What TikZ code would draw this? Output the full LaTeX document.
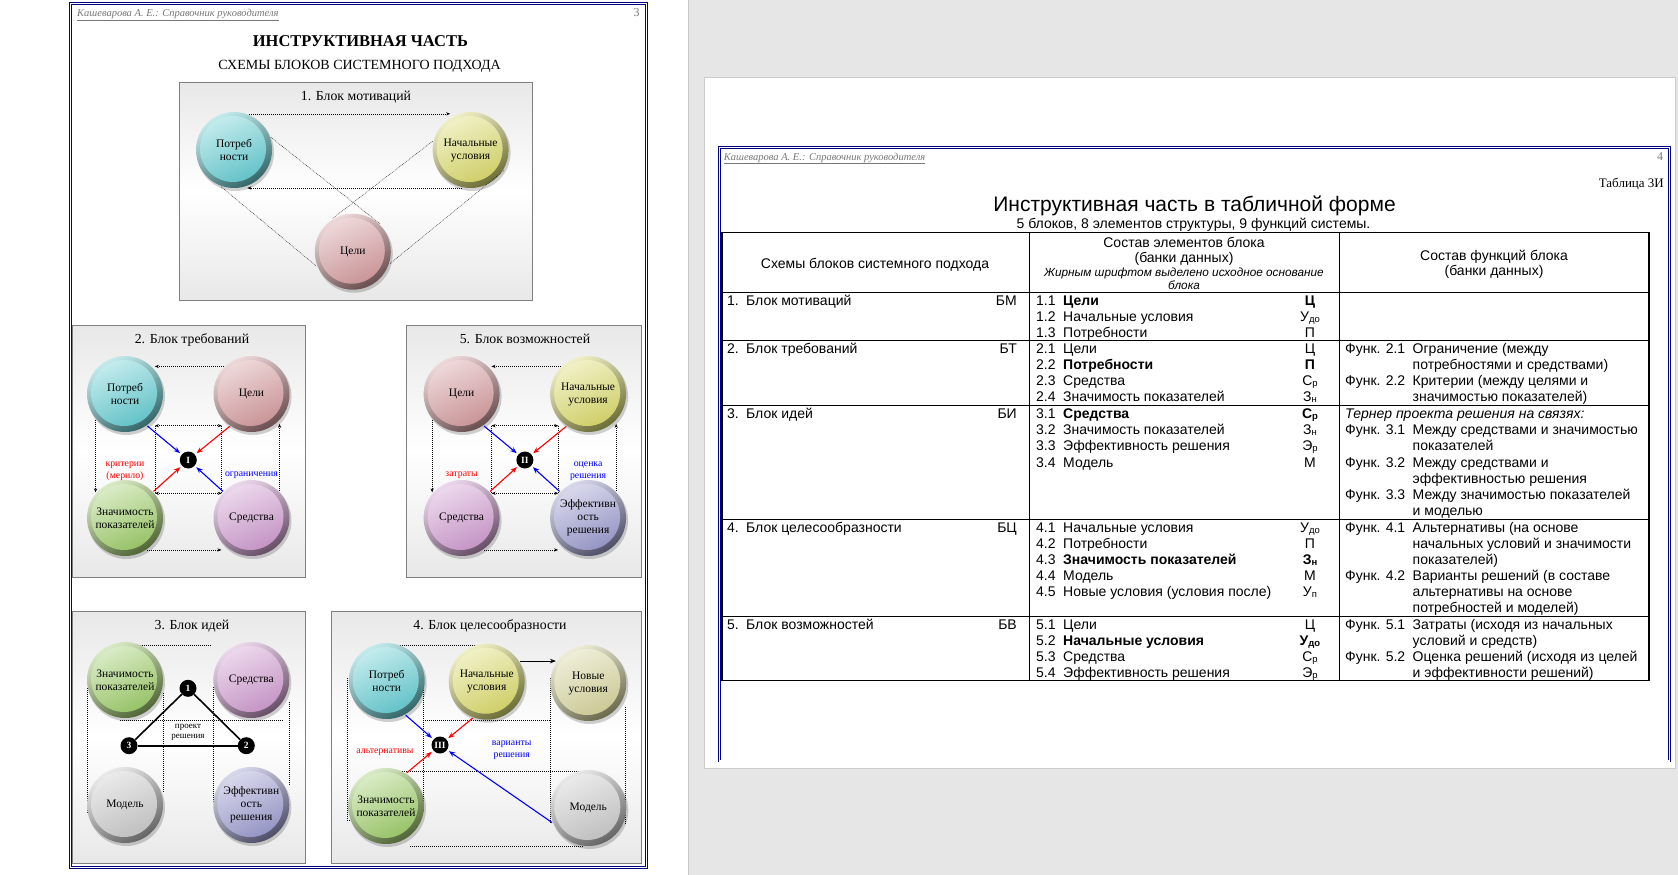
\documentclass[tikz,border=0pt]{standalone}
\usepackage{fontspec}
\setmainfont{Liberation Serif}
\newfontfamily\tabfont{Liberation Sans}
\usetikzlibrary{arrows.meta,calc}

\definecolor{cPotr}{RGB}{105,205,210}
\definecolor{cNach}{RGB}{218,218,112}
\definecolor{cCeli}{RGB}{212,157,160}
\definecolor{cZnach}{RGB}{160,205,110}
\definecolor{cSred}{RGB}{207,157,207}
\definecolor{cEff}{RGB}{157,157,207}
\definecolor{cMod}{RGB}{202,202,202}
\definecolor{cNov}{RGB}{214,212,158}
\definecolor{navyb}{RGB}{0,0,128}
\definecolor{pagegray}{RGB}{230,230,230}
\definecolor{hdrgray}{RGB}{120,120,120}

\tikzset{
  sphtext/.style={circle, minimum size=76pt, inner sep=0pt, outer sep=1pt, align=center, font=\fontsize{11.5}{13}\selectfont},
  blockbox/.style={draw=black!50, line width=0.8pt, top color=black!9, bottom color=black!9, middle color=white},
  btitle/.style={font=\fontsize{13.8}{15}\selectfont, anchor=base, inner sep=0pt},
  dotl/.style={line width=0.6pt, dash pattern=on 0.9pt off 1.1pt},
  dotthin/.style={line width=0.5pt, black!85, dash pattern=on 0.8pt off 1pt},
  dotar/.style={dotl, -{Stealth[length=4pt,width=3.2pt]}},
  dotbi/.style={dotl, {Stealth[length=4pt,width=3.2pt]}-{Stealth[length=4pt,width=3.2pt]}},
  carrow/.style={line width=1.1pt, -{Stealth[length=6.5pt,width=5pt]}, shorten >=2pt},
  numc/.style={circle, fill=black, text=white, minimum size=17pt, inner sep=0pt, font=\bfseries\fontsize{9.5}{10}\selectfont},
  lbl/.style={font=\fontsize{9.8}{11.6}\selectfont, align=center, inner sep=0pt},
  tabf/.style={font=\tabfont\fontsize{14}{15}\selectfont, inner sep=0pt, anchor=base west},
  tabi/.style={font=\tabfont\itshape\fontsize{11.8}{13}\selectfont, inner sep=0pt, anchor=base west},
  hdr/.style={font=\itshape\fontsize{10.5}{12}\selectfont, text=hdrgray, inner sep=0pt, anchor=base west},
  pnum/.style={font=\fontsize{12}{14}\selectfont, text=hdrgray, inner sep=0pt, anchor=base},
  pageborder/.style={navyb, line width=0.8pt, double=white, double distance=1.2pt},
  tline/.style={line width=1pt, black},
}

\newcommand{\mysph}[4]{%
  \coordinate (#1-c) at (#2);
  \fill[black,opacity=.18] ([shift={(1.5pt,-2.5pt)}]#1-c) circle (38.5pt);
  \shade[top color=#3!40!white, bottom color=#3!50!black, shading angle=30] (#1-c) circle (38pt);
  \shade[top color=#3!40!white, bottom color=#3!95!black, shading angle=25] ([shift={(-1pt,1pt)}]#1-c) circle (33pt);
  \node[sphtext] (#1) at (#1-c) {#4};
}

\newcounter{tlc}
\newcommand{\tabL}[2]{\stepcounter{tlc}\node[tabf] (tl\arabic{tlc}) at (#1) {#2};}
\newcommand{\tabC}[2]{\stepcounter{tlc}\node[tabf, anchor=base] (tl\arabic{tlc}) at (#1) {#2};}
\newcommand{\tabR}[2]{\stepcounter{tlc}\node[tabf, anchor=base east] (tl\arabic{tlc}) at (#1) {#2};}
\newcommand{\subs}[1]{\raisebox{-1pt}{\fontsize{9.5}{9.5}\selectfont #1}}
\newcommand{\cellB}[4]{\tabL{727,#1}{#2}\tabL{746,#1}{#3}\tabR{1017,#1}{#4}}
\newcommand{\cellE}[4]{\tabL{1036,#1}{#2}\tabL{1063,#1}{#3}\tabC{1310,#1}{#4}}
\newcommand{\cellF}[3]{\tabL{1345,#1}{#2}\tabL{1412.5,#1}{#3}}
\newcommand{\cellG}[2]{\tabL{1412.5,#1}{#2}}

\begin{document}
\begin{tikzpicture}[x=1pt,y=-1pt]
\useasboundingbox (0,0) rectangle (1678,875);
% ---------- backgrounds ----------
\fill[white] (0,0) rectangle (688,875);
\fill[pagegray] (688,0) rectangle (1678,875);
\draw[black!22, line width=1pt] (688,0) -- (688,875);
\fill[white] (704,77) rectangle (1675,768.5);
\draw[black!20, line width=0.8pt] (704,77) rectangle (1675,768.5);

% ---------- LEFT PAGE ----------
\draw[pageborder] (70.5,3.7) rectangle (646.5,867.5);
\node[hdr] (hdrL) at (77,16.5) {\underline{Кашеварова А. Е.: Справочник руководителя}};
\node[pnum] (pn3) at (636.7,16.5) {3};
\node[font=\bfseries\fontsize{16.5}{18}\selectfont, anchor=base, inner sep=0pt] (ltitle) at (360.4,46.3) {ИНСТРУКТИВНАЯ ЧАСТЬ};
\node[font=\fontsize{14}{16}\selectfont, anchor=base, inner sep=0pt] (lsub) at (359.5,69.8) {СХЕМЫ БЛОКОВ СИСТЕМНОГО ПОДХОДА};

% block boxes
\draw[blockbox] (179.4,82.3) rectangle (532.6,300);
\draw[blockbox] (72,325) rectangle (305,577.5);
\draw[blockbox] (406.3,325) rectangle (641.7,577.5);
\draw[blockbox] (72,611.7) rectangle (305,863.5);
\draw[blockbox] (331.7,611.7) rectangle (641.3,863.5);

\node[btitle] (t1) at (356,100.4) {1. Блок мотиваций};
\node[btitle] (t2) at (192,343) {2. Блок требований};
\node[btitle] (t5) at (525,343) {5. Блок возможностей};
\node[btitle] (t3) at (192,629.7) {3. Блок идей};
\node[btitle] (t4) at (490,629.7) {4. Блок целесообразности};

% dotted frames (behind spheres)
\draw[dotl] (119.7,645) -- (211.3,645);
\draw[dotl] (87,688.3) -- (87,812.7) -- (98,812.7);
\draw[dotl] (163,693.3) -- (163,791.7);
\draw[dotl] (213,687.3) -- (213,801.7);
\draw[dotl] (289,701.7) -- (289,785);
\draw[dotl] (119.7,720) -- (283,720);

\draw[dotl] (381.7,645) -- (483.3,645);
\draw[dotl] (347.3,678.3) -- (347.3,820.7) -- (358,820.7);
\draw[dotl] (423.3,690) -- (423.3,812);
\draw[dotl] (423.3,720) -- (550,720);
\draw[dotl] (550,678.3) -- (550,823.3);
\draw[dotl] (625,706.7) -- (625,823.3);
\draw[dotl] (381.7,771.7) -- (583.3,771.7);
\draw[dotl] (410,846.7) -- (583.3,846.7);

% ---- Block 1 ----
\mysph{P1}{234,150}{cPotr}{Потреб\\ности}
\mysph{N1}{470.6,150}{cNach}{Начальные\\условия}
\mysph{C1}{352.8,251.7}{cCeli}{Цели}
\draw[dotar, shorten >=4pt] (P1.68) -- (P1.68 -| N1.115);
\draw[dotar] (N1.-103) -- (N1.-103 -| P1.-70);
\draw[dotthin] (P1.19) -- (C1.46);
\draw[dotthin] (N1.167) -- (C1.121);
\draw[dotthin] (P1.-109) -- (C1.-158);
\draw[dotthin] (N1.-32) -- (C1.-18);

% ---- Block 2 ----
\mysph{P2}{125,394}{cPotr}{Потреб\\ности}
\mysph{C2}{251.5,394}{cCeli}{Цели}
\mysph{Z2}{125,518}{cZnach}{Значимость\\показателей}
\mysph{S2}{251.5,518}{cSred}{Средства}
\node[numc] (I2) at (188.3,460) {I};
\draw[dotar] (C2.135) -- (C2.135 -| P2.40);
\draw[dotar] (P2.-139) -- (P2.-139 |- Z2.139);
\draw[dotar] (S2.44) -- (S2.44 |- C2.-50);
\draw[dotar, shorten >=5pt] (Z2.-55) -- (Z2.-55 -| S2.-130);
\coordinate (b2a) at (155,425.7);
\coordinate (b2b) at (221.7,425.7);
\coordinate (b2c) at (221.7,493.3);
\coordinate (b2d) at (155,493.3);
\draw[dotbi] (b2a) -- (b2b);
\draw[dotbi] (b2d) -- (b2c);
\draw[dotl] (b2a) -- (b2d);
\draw[dotl] (b2b) -- (b2c);
\draw[carrow, blue] (P2.-55) -- (I2);
\draw[carrow, red] (C2.-124) -- (I2);
\draw[carrow, red] (Z2.43) -- (I2);
\draw[carrow, blue] (S2.137) -- (I2);
\node[lbl, text=red] (l2a) at (125,471.5) {критерии\\(мерило)};
\node[lbl, text=blue] (l2b) at (251.5,475) {ограничения};

% ---- Block 5 ----
\mysph{C5}{461.6,394}{cCeli}{Цели}
\mysph{N5}{588.1,394}{cNach}{Начальные\\условия}
\mysph{S5}{461.6,518}{cSred}{Средства}
\mysph{E5}{588.1,518}{cEff}{Эффективн\\ость\\решения}
\node[numc] (I5) at (524.9,460) {II};
\draw[dotar] (N5.135) -- (N5.135 -| C5.40);
\draw[dotar] (C5.-139) -- (C5.-139 |- S5.139);
\draw[dotar] (E5.44) -- (E5.44 |- N5.-50);
\draw[dotar, shorten >=5pt] (S5.-55) -- (S5.-55 -| E5.-130);
\coordinate (b5a) at (491.6,425.7);
\coordinate (b5b) at (558.3,425.7);
\coordinate (b5c) at (558.3,493.3);
\coordinate (b5d) at (491.6,493.3);
\draw[dotbi] (b5a) -- (b5b);
\draw[dotbi] (b5d) -- (b5c);
\draw[dotl] (b5a) -- (b5d);
\draw[dotl] (b5b) -- (b5c);
\draw[carrow, blue] (C5.-55) -- (I5);
\draw[carrow, red] (N5.-124) -- (I5);
\draw[carrow, red] (S5.43) -- (I5);
\draw[carrow, blue] (E5.137) -- (I5);
\node[lbl, text=red] (l5a) at (461.6,475) {затраты};
\node[lbl, text=blue] (l5b) at (588.1,471.5) {оценка\\решения};

% ---- Block 3 ----
\mysph{Z3}{125,680}{cZnach}{Значимость\\показателей}
\mysph{S3}{251.3,680}{cSred}{Средства}
\mysph{M3}{125,805}{cMod}{Модель}
\mysph{E3}{251.3,805}{cEff}{Эффективн\\ость\\решения}
\node[numc] (n1) at (188,688.3) {1};
\node[numc] (n2) at (246.3,745.7) {2};
\node[numc] (n3) at (129,745.7) {3};
\draw[line width=1.6pt] (n1) -- (n2);
\draw[line width=1.6pt] (n2) -- (n3);
\draw[line width=1.6pt] (n3) -- (n1);
\node[lbl, font=\fontsize{9}{10}\selectfont] (proj) at (188,732) {проект\\решения};

% ---- Block 4 ----
\mysph{P4}{386.7,681}{cPotr}{Потреб\\ности}
\mysph{N4}{486.7,681.7}{cNach}{Начальные\\условия}
\mysph{U4}{588.3,683}{cNov}{Новые\\условия}
\mysph{Z4}{386,806}{cZnach}{Значимость\\показателей}
\mysph{M4}{588.3,808}{cMod}{Модель}
\node[numc] (I4) at (440,745) {III};
\draw[line width=0.8pt, -{Stealth[length=6pt,width=4.5pt]}] (N4.32) -- (N4.32 -| U4.146);
\draw[carrow, blue] (P4.-61) -- (I4);
\draw[carrow, red] (N4.-111) -- (I4);
\draw[carrow, red] (Z4.58) -- (I4);
\draw[carrow, blue] (M4.-158) -- (I4);
\node[lbl, text=red] (l4a) at (385,752.7) {альтернативы};
\node[lbl, text=blue] (l4b) at (511.7,750) {варианты\\решения};

% ---------- RIGHT PAGE ----------
\draw[pageborder] (719.5,147.7) rectangle (1669.6,761);
\node[hdr] (hdrR) at (723.7,160) {\underline{Кашеварова А. Е.: Справочник руководителя}};
\node[pnum] (pn4) at (1660,160) {4};
\node[font=\fontsize{13}{15}\selectfont, anchor=base east, inner sep=0pt] (tab3) at (1664,187.5) {Таблица 3И};
\node[font=\tabfont\fontsize{21}{24}\selectfont, anchor=base, inner sep=0pt] (rtitle) at (1194.5,211.3) {Инструктивная часть в табличной форме};
\node[tabf, anchor=base] (rsub) at (1193.5,228.8) {5 блоков, 8 элементов структуры, 9 функций системы.};

% table grid
\draw[tline, line width=1.2pt] (722,232.2) rectangle (1649,680.6);
\foreach \yy in {292.2,340.3,405.6,519,616.4} \draw[tline] (722,\yy) -- (1649,\yy);
\draw[tline] (1029.5,232.2) -- (1029.5,680.6);
\draw[tline] (1339,232.2) -- (1339,680.6);

% header
\node[tabf, anchor=base] (h1) at (875,268.3) {Схемы блоков системного подхода};
\node[tabf, anchor=base] (h2) at (1184,247.5) {Состав элементов блока};
\node[tabf, anchor=base] (h3) at (1184,262.3) {(банки данных)};
\node[tabi, anchor=base] (h4) at (1184,276.3) {Жирным шрифтом выделено исходное основание};
\node[tabi, anchor=base] (h5) at (1184,289.3) {блока};
\node[tabf, anchor=base] (h6) at (1494,260.3) {Состав функций блока};
\node[tabf, anchor=base] (h7) at (1494,275) {(банки данных)};

% row 1
\cellB{305.2}{1.}{Блок мотиваций}{БМ}
\cellE{305.2}{1.1}{\textbf{Цели}}{\textbf{Ц}}
\cellE{321.35}{1.2}{Начальные условия}{У\subs{до}}
\cellE{337.5}{1.3}{Потребности}{П}
% row 2
\cellB{353.3}{2.}{Блок требований}{БТ}
\cellE{353.3}{2.1}{Цели}{Ц}
\cellE{369.45}{2.2}{\textbf{Потребности}}{\textbf{П}}
\cellE{385.6}{2.3}{Средства}{С\subs{р}}
\cellE{401.75}{2.4}{Значимость показателей}{З\subs{н}}
\cellF{353.3}{Функ. 2.1}{Ограничение (между}
\cellG{369.45}{потребностями и средствами)}
\cellF{385.6}{Функ. 2.2}{Критерии (между целями и}
\cellG{401.75}{значимостью показателей)}
% row 3
\cellB{418.6}{3.}{Блок идей}{БИ}
\cellE{418.6}{3.1}{\textbf{Средства}}{\textbf{С\subs{р}}}
\cellE{434.75}{3.2}{Значимость показателей}{З\subs{н}}
\cellE{450.9}{3.3}{Эффективность решения}{Э\subs{р}}
\cellE{467.05}{3.4}{Модель}{М}
\node[tabi, font=\tabfont\itshape\fontsize{14}{15}\selectfont] (tern) at (1345,418.6) {Тернер проекта решения на связях:};
\cellF{434.75}{Функ. 3.1}{Между средствами и значимостью}
\cellG{450.9}{показателей}
\cellF{467.05}{Функ. 3.2}{Между средствами и}
\cellG{483.2}{эффективностью решения}
\cellF{499.35}{Функ. 3.3}{Между значимостью показателей}
\cellG{515.5}{и моделью}
% row 4
\cellB{532}{4.}{Блок целесообразности}{БЦ}
\cellE{532}{4.1}{Начальные условия}{У\subs{до}}
\cellE{548.15}{4.2}{Потребности}{П}
\cellE{564.3}{4.3}{\textbf{Значимость показателей}}{\textbf{З\subs{н}}}
\cellE{580.45}{4.4}{Модель}{М}
\cellE{596.6}{4.5}{Новые условия (условия после)}{У\subs{п}}
\cellF{532}{Функ. 4.1}{Альтернативы (на основе}
\cellG{548.15}{начальных условий и значимости}
\cellG{564.3}{показателей)}
\cellF{580.45}{Функ. 4.2}{Варианты решений (в составе}
\cellG{596.6}{альтернативы на основе}
\cellG{612.75}{потребностей и моделей)}
% row 5
\cellB{629.4}{5.}{Блок возможностей}{БВ}
\cellE{629.4}{5.1}{Цели}{Ц}
\cellE{645.55}{5.2}{\textbf{Начальные условия}}{\textbf{У\subs{до}}}
\cellE{661.7}{5.3}{Средства}{С\subs{р}}
\cellE{677.85}{5.4}{Эффективность решения}{Э\subs{р}}
\cellF{629.4}{Функ. 5.1}{Затраты (исходя из начальных}
\cellG{645.55}{условий и средств)}
\cellF{661.7}{Функ. 5.2}{Оценка решений (исходя из целей}
\cellG{677.85}{и эффективности решений)}
\end{tikzpicture}
\end{document}
